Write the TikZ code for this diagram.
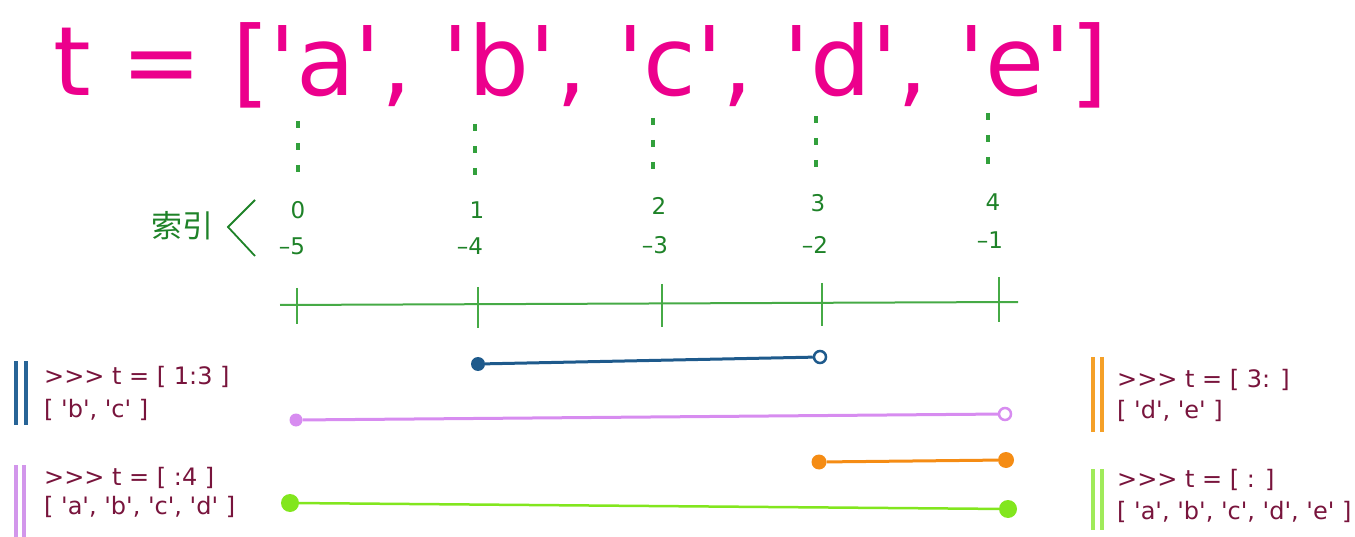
\documentclass[tikz,border=0pt]{standalone}
\usepackage{fontspec}
\newfontfamily\plainfont{DejaVu Sans}
\newfontfamily\cjk{Noto Sans CJK SC}
\definecolor{titlemag}{RGB}{236,0,140}
\definecolor{idxgreen}{RGB}{30,130,40}
\definecolor{axisgreen}{RGB}{70,170,70}
\definecolor{dashgreen}{RGB}{50,160,60}
\definecolor{sblue}{RGB}{30,90,140}
\definecolor{sviolet}{RGB}{215,140,240}
\definecolor{sorange}{RGB}{245,140,20}
\definecolor{slime}{RGB}{130,230,30}
\definecolor{codetext}{RGB}{120,20,60}
\definecolor{barblue}{RGB}{40,100,150}
\definecolor{barviolet}{RGB}{210,150,235}
\definecolor{barorange}{RGB}{245,160,40}
\definecolor{barlime}{RGB}{160,235,90}
\tikzset{
  idx/.style={text=idxgreen, font=\plainfont\fontsize{23}{23}\selectfont, inner sep=0pt},
  guide/.style={dashgreen, line width=3.2pt, dash pattern=on 7pt off 15pt},
  axisline/.style={axisgreen, line width=2pt},
  tickline/.style={axisgreen, line width=2pt},
  code/.style={text=codetext, font=\plainfont\fontsize{24}{24}\selectfont, anchor=west, inner sep=0pt},
  bar/.style={line width=3.5pt},
  fdot/.style={circle, fill=#1, inner sep=0pt, minimum size=15pt},
  odot/.style={circle, draw=#1, fill=white, line width=2.5pt, inner sep=0pt, minimum size=12pt},
  seg/.style={line width=3pt, #1}
}
\begin{document}
\begin{tikzpicture}[x=1pt,y=-1pt]
\useasboundingbox (0,0) rectangle (1355,537);
% title
\node[anchor=base west, inner sep=0pt, text=titlemag, font=\plainfont\fontsize{96}{96}\selectfont] (title) at (53,96) {t = ['a', 'b', 'c', 'd', 'e']};
% guides
\coordinate (g0t) at (298,121); \coordinate (g0b) at (298,180);
\coordinate (g1t) at (475,124); \coordinate (g1b) at (475,182);
\coordinate (g2t) at (653,118); \coordinate (g2b) at (653,176);
\coordinate (g3t) at (816,116); \coordinate (g3b) at (816,174);
\coordinate (g4t) at (988,113); \coordinate (g4b) at (988,172);
\foreach \i in {0,...,4} { \draw[guide] (g\i t) -- (g\i b); }
% index labels
\node[idx] (p0) at (298,210) {0};
\node[idx] (p1) at (477,210) {1};
\node[idx] (p2) at (659,206) {2};
\node[idx] (p3) at (818,203) {3};
\node[idx] (p4) at (993,202) {4};
\node[idx] (n0) at (292,246) {–5};
\node[idx] (n1) at (470,246) {–4};
\node[idx] (n2) at (655,245) {–3};
\node[idx] (n3) at (815,245) {–2};
\node[idx] (n4) at (990,240) {–1};
\node[text=idxgreen, font=\cjk\fontsize{31}{31}\selectfont, inner sep=0pt] (suoyin) at (182,226) {索引};
\coordinate (brA) at (255,200); \coordinate (brB) at (228,227); \coordinate (brC) at (255,256);
\draw[idxgreen, line width=1.8pt] (brA) -- (brB) -- (brC);
% axis
\coordinate (ax0) at (280,305); \coordinate (ax1) at (1018,302);
\draw[axisline] (ax0) -- (ax1);
\coordinate (t0a) at (297,288); \coordinate (t0b) at (297,324);
\coordinate (t1a) at (478,287); \coordinate (t1b) at (478,328);
\coordinate (t2a) at (662,284); \coordinate (t2b) at (662,327);
\coordinate (t3a) at (822,283); \coordinate (t3b) at (822,326);
\coordinate (t4a) at (999,277); \coordinate (t4b) at (999,322);
\foreach \i in {0,...,4} { \draw[tickline] (t\i a) -- (t\i b); }
% segments
\node[fdot=sblue, minimum size=14pt] (bA) at (478,364) {};
\node[odot=sblue] (bB) at (820,357) {};
\draw[seg=sblue] (bA) -- (bB);
\node[fdot=sviolet, minimum size=13pt] (vA) at (296,420) {};
\node[odot=sviolet] (vB) at (1005,414) {};
\draw[seg=sviolet] (vA) -- (vB);
\node[fdot=sorange] (oA) at (819,462) {};
\node[fdot=sorange, minimum size=16pt] (oB) at (1006,460) {};
\draw[seg=sorange] (oA) -- (oB);
\node[fdot=slime, minimum size=18pt] (lA) at (290,503) {};
\node[fdot=slime, minimum size=18pt] (lB) at (1008,509) {};
\draw[seg=slime, line width=2.5pt] (lA) -- (lB);
% code blocks left
\coordinate (b1a) at (16,361); \coordinate (b1b) at (16,425);
\coordinate (b1c) at (26,361); \coordinate (b1d) at (26,425);
\draw[bar, barblue] (b1a) -- (b1b); \draw[bar, barblue] (b1c) -- (b1d);
\node[code] (c1a) at (44,377) {>>> t = [ 1:3 ]};
\node[code] (c1b) at (44,410) {[ 'b', 'c' ]};
\coordinate (b2a) at (16,465); \coordinate (b2b) at (16,537);
\coordinate (b2c) at (24,465); \coordinate (b2d) at (24,537);
\draw[bar, barviolet] (b2a) -- (b2b); \draw[bar, barviolet] (b2c) -- (b2d);
\node[code] (c2a) at (44,478) {>>> t = [ :4 ]};
\node[code] (c2b) at (44,507) {[ 'a', 'b', 'c', 'd' ]};
% code blocks right
\coordinate (b3a) at (1093,357); \coordinate (b3b) at (1093,432);
\coordinate (b3c) at (1102,357); \coordinate (b3d) at (1102,432);
\draw[bar, barorange] (b3a) -- (b3b); \draw[bar, barorange] (b3c) -- (b3d);
\node[code] (c3a) at (1117,380) {>>> t = [ 3: ]};
\node[code] (c3b) at (1117,411) {[ 'd', 'e' ]};
\coordinate (b4a) at (1093,469); \coordinate (b4b) at (1093,530);
\coordinate (b4c) at (1102,469); \coordinate (b4d) at (1102,530);
\draw[bar, barlime] (b4a) -- (b4b); \draw[bar, barlime] (b4c) -- (b4d);
\node[code] (c4a) at (1117,480) {>>> t = [ : ]};
\node[code] (c4b) at (1117,512) {[ 'a', 'b', 'c', 'd', 'e' ]};
\end{tikzpicture}
\end{document}
